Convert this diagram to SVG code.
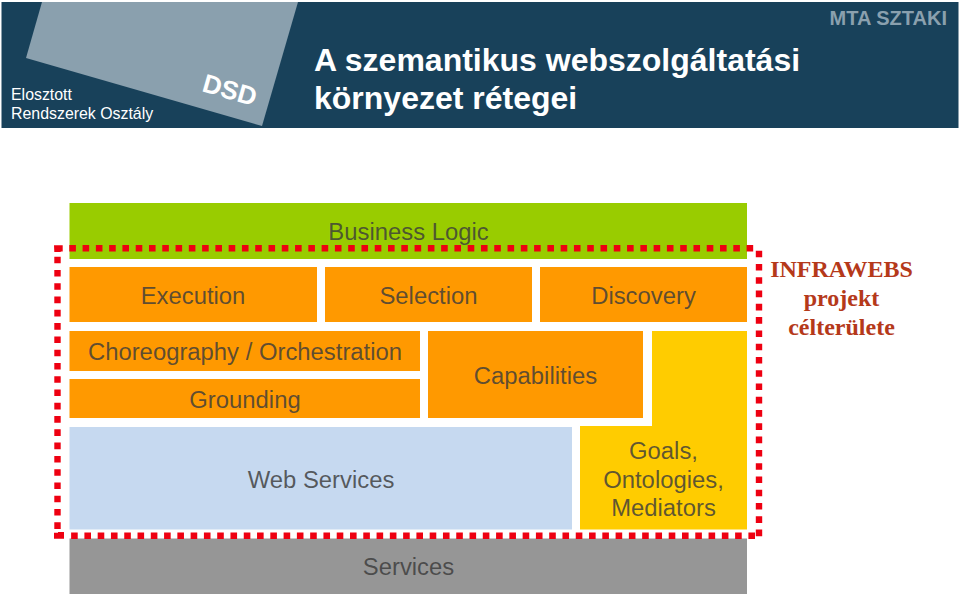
<svg xmlns="http://www.w3.org/2000/svg" width="960" height="595" viewBox="0 0 960 595">
<style>
text{font-family:"Liberation Sans",Arial,sans-serif}
.l{font-size:23.85px;fill:#3c3c3c;fill-opacity:.82;text-anchor:middle}
.t{font-size:32px;font-weight:bold;fill:#fff}
.s{font-size:15.9px;fill:#fff}
.r{font-family:"Liberation Serif","Times New Roman",serif;font-size:24px;font-weight:bold;fill:#b5391a;text-anchor:middle}
.o{fill:#ff9900}
.d{fill:none;stroke:#ee0011;stroke-width:6.4;stroke-dasharray:6.6 6.68}
</style>
<rect width="960" height="595" fill="#fff"/>
<g id="header">
<rect x="1.5" y="2" width="957" height="126" fill="#18415a"/>
<polygon points="42,2 298,2 262,126 26,58" fill="#8aa0ae"/>
<text x="201" y="91" transform="rotate(16 201 91)" font-size="26" font-weight="bold" fill="#fff">DSD</text>
<text class="s" x="11" y="100">Elosztott</text>
<text class="s" x="11" y="119">Rendszerek Osztály</text>
<text class="t" x="314" y="71">A szemantikus webszolgáltatási</text>
<text class="t" x="314" y="109">környezet rétegei</text>
<text x="947" y="25" text-anchor="end" font-size="20" font-weight="bold" fill="#8aa0ae">MTA SZTAKI</text>
</g>
<g id="business-logic"><rect x="69.5" y="203" width="677.5" height="56" fill="#99cc00"/><text class="l" x="408.500" y="240">Business Logic</text></g>
<g id="execution"><rect class="o" x="69.500" y="267" width="247.500" height="55"/><text class="l" x="193" y="304">Execution</text></g>
<g id="selection"><rect class="o" x="325" y="267" width="207" height="55"/><text class="l" x="428.500" y="304">Selection</text></g>
<g id="discovery"><rect class="o" x="540" y="267" width="207" height="55"/><text class="l" x="643.500" y="304">Discovery</text></g>
<g id="choreography"><rect class="o" x="69.500" y="331" width="350.500" height="40"/><text class="l" x="245" y="360">Choreography / Orchestration</text></g>
<g id="grounding"><rect class="o" x="69.500" y="379" width="350.500" height="39"/><text class="l" x="245" y="408">Grounding</text></g>
<g id="capabilities"><rect class="o" x="428" y="331" width="215" height="87"/><text class="l" x="535.500" y="384">Capabilities</text></g>
<g id="web-services"><rect x="69.500" y="427" width="502.500" height="102.500" fill="#c6d9f0"/><text class="l" x="321" y="488">Web Services</text></g>
<g id="goals"><polygon points="652,331 747,331 747,529.500 580,529.500 580,426 652,426" fill="#ffcc00"/><text class="l" x="663.500" y="459">Goals,</text><text class="l" x="663.500" y="488">Ontologies,</text><text class="l" x="663.500" y="516">Mediators</text></g>
<g id="services"><rect x="69.500" y="538.500" width="677.500" height="55.500" fill="#969696"/><text class="l" x="408.500" y="575">Services</text></g>
<g id="connectors">
<path class="d" d="M69.300 248.300H755"/>
<path class="d" d="M759 250.700V537"/>
<path class="d" d="M755 535.700H68"/>
<path class="d" d="M57.500 256.700V530"/>
<path d="M54 245.200H62.700V251.500H60.700V252H54.300ZM54 532.700H58V532H64V538.700H54Z" fill="#ee0011"/>
</g>
<g id="label"><text class="r" x="841.500" y="277">INFRAWEBS</text><text class="r" x="841.500" y="306">projekt</text><text class="r" x="841.500" y="335">célterülete</text></g>
</svg>
